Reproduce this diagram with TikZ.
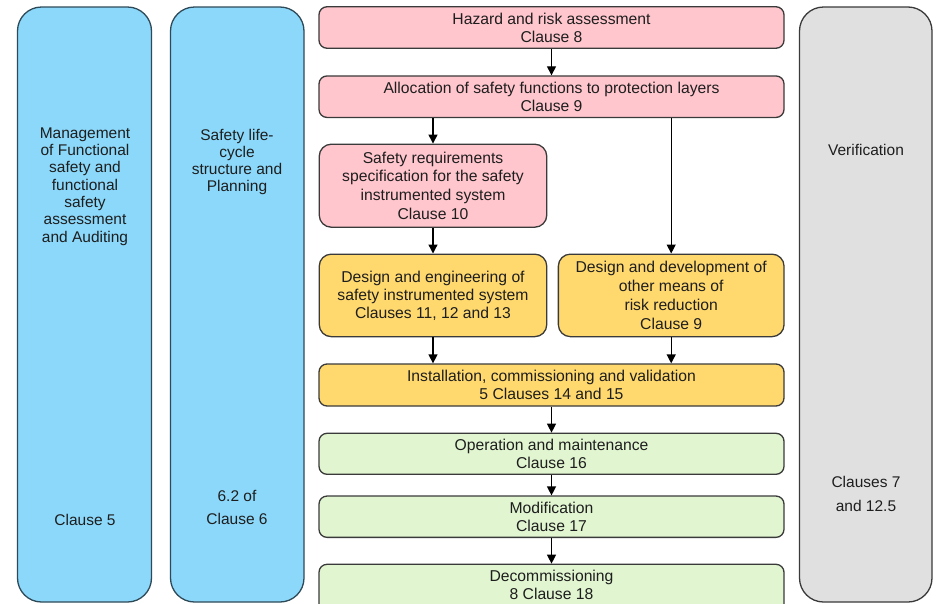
\documentclass[tikz,border=0pt]{standalone}
\usepackage{fontspec}
\setmainfont{Liberation Sans}
\usetikzlibrary{arrows.meta}
\definecolor{bluefill}{HTML}{8BD8FA}
\definecolor{pinkfill}{HTML}{FFC6CD}
\definecolor{yellowfill}{HTML}{FFD96E}
\definecolor{greenfill}{HTML}{E0F5D0}
\definecolor{greyfill}{HTML}{E0E0E0}
\definecolor{edge}{HTML}{3A3A3A}
\definecolor{blueedge}{HTML}{2E4A58}
\definecolor{txt}{HTML}{1E1E1E}
\tikzset{
  box/.style={draw=edge, line width=1.3pt, rounded corners=8pt, align=center,
    text=txt, inner sep=0pt, font=\fontsize{15.7}{18}\selectfont},
  pinkbox/.style={box, fill=pinkfill},
  yellowbox/.style={box, fill=yellowfill},
  greenbox/.style={box, fill=greenfill},
  column/.style={draw=blueedge, line width=1.3pt, rounded corners=24pt},
  coltext/.style={align=center, text=txt, inner sep=0pt, font=\fontsize{15.5}{17.3}\selectfont},
  flow/.style={line width=1.3pt, black, -{Triangle[length=9pt,width=9pt]}}
}
\begin{document}
\begin{tikzpicture}[x=1pt,y=-1pt]
\useasboundingbox (0,0) rectangle (937,603);
\clip (0,0) rectangle (937,603);
% side columns
\draw[column, fill=bluefill] (17.5,7) rectangle (151.5,602);
\draw[column, fill=bluefill] (170.5,7) rectangle (304,602);
\draw[column, draw=edge, fill=greyfill] (799.5,7) rectangle (932,602);
\node[coltext] (mgmt) at (85,186.5) {Management\\of Functional\\safety and\\functional\\safety\\assessment\\and Auditing};
\node[coltext] (mgmtcl) at (85,520) {Clause 5};
\node[coltext] (slc) at (237,162) {Safety life-\\cycle\\structure and\\Planning};
\node[coltext, font=\fontsize{15.5}{23}\selectfont] (slccl) at (237,507.5) {6.2 of\\Clause 6};
\node[coltext] (ver) at (866,150) {Verification};
\node[coltext, font=\fontsize{15.5}{24}\selectfont] (vercl) at (866,494) {Clauses 7\\and 12.5};
% main flow boxes
\node[pinkbox, minimum width=465pt, minimum height=41.5pt] (haz) at (551.5,27.5) {Hazard and risk assessment\\Clause 8};
\node[pinkbox, minimum width=465pt, minimum height=41.5pt] (alloc) at (551.5,96.7) {Allocation of safety functions to protection layers\\Clause 9};
\node[pinkbox, rounded corners=12pt, minimum width=227.5pt, minimum height=83pt, font=\fontsize{15.7}{18.7}\selectfont] (srs) at (433,185.7) {Safety requirements\\specification for the safety\\instrumented system\\Clause 10};
\node[yellowbox, rounded corners=12pt, minimum width=227.5pt, minimum height=82.5pt] (deseng) at (433,295.4) {Design and engineering of\\safety instrumented system\\Clauses 11, 12 and 13};
\node[yellowbox, rounded corners=12pt, minimum width=225.7pt, minimum height=82.5pt, font=\fontsize{15.7}{18.7}\selectfont] (desdev) at (671.2,295.4) {Design and development of\\other means of\\risk reduction\\Clause 9};
\node[yellowbox, minimum width=465pt, minimum height=42pt] (inst) at (551.5,385) {Installation, commissioning and validation\\5 Clauses 14 and 15};
\node[greenbox, minimum width=465pt, minimum height=41pt] (oper) at (551.5,453.8) {Operation and maintenance\\Clause 16};
\node[greenbox, minimum width=465pt, minimum height=41.3pt] (modif) at (551.5,516.7) {Modification\\Clause 17};
\node[greenbox, minimum width=465pt, minimum height=48pt] (decom) at (551.5,588.3) {};
\node[coltext, font=\fontsize{15.7}{18}\selectfont] (decomtxt) at (551.5,584.5) {Decommissioning\\8 Clause 18};
% connectors
\draw[flow] (haz.south) -- (alloc.north);
\draw[flow] (alloc.south -| srs.north) -- (srs.north);
\draw[flow] (alloc.south -| desdev.north) -- (desdev.north);
\draw[flow] (srs.south) -- (deseng.north);
\draw[flow] (deseng.south) -- (deseng.south |- inst.north);
\draw[flow] (desdev.south) -- (desdev.south |- inst.north);
\draw[flow] (inst.south) -- (oper.north);
\draw[flow] (oper.south) -- (modif.north);
\draw[flow] (modif.south) -- (decom.north);
\end{tikzpicture}
\end{document}
